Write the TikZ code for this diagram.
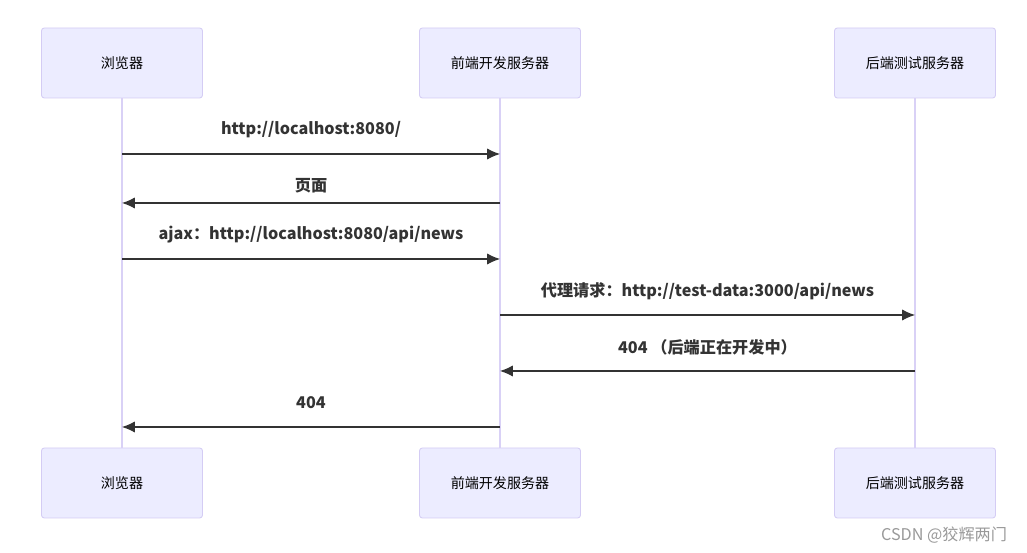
\documentclass[tikz,border=0pt]{standalone}
\usepackage{fontspec}
\setmainfont{Noto Sans CJK SC}
\usetikzlibrary{arrows.meta}

\definecolor{kastenrand}{HTML}{D4CCF4}
\definecolor{kastenfuell}{HTML}{ECECFF}
\definecolor{linienfarbe}{HTML}{D9D1F6}

\tikzset{
  teilnehmer/.style={draw=kastenrand, fill=kastenfuell, rounded corners=2pt, line width=0.6pt,
    minimum width=4.025cm, minimum height=1.75cm, font=\fontsize{10}{12}\selectfont},
  lebenslinie/.style={draw=linienfarbe, line width=1.1pt},
  nachricht/.style={draw=black!80, line width=0.8pt, -{Latex[length=3.2mm,width=2.8mm]}},
  beschriftung/.style={font=\bfseries\fontsize{11.5}{13}\selectfont, text=black!80}
}

\begin{document}
\begin{tikzpicture}
\useasboundingbox (0,0) rectangle (25.675,13.825);

%TEILNEHMER OBEN
\node [teilnehmer] (browserO) at (3.05,12.25) {浏览器};
\node [teilnehmer] (frontendO) at (12.5,12.25) {前端开发服务器};
\node [teilnehmer] (backendO) at (22.875,12.25) {后端测试服务器};

%TEILNEHMER UNTEN
\node [teilnehmer] (browserU) at (3.05,1.75) {浏览器};
\node [teilnehmer] (frontendU) at (12.5,1.75) {前端开发服务器};
\node [teilnehmer] (backendU) at (22.875,1.75) {后端测试服务器};

%LEBENSLINIEN
\draw [lebenslinie] (browserO) -- (browserU);
\draw [lebenslinie] (frontendO) -- (frontendU);
\draw [lebenslinie] (backendO) -- (backendU);

%PUNKTE AUF DEN LEBENSLINIEN
\coordinate (b1) at (3.05,9.975);
\coordinate (f1) at (12.5,9.975);
\coordinate (b2) at (3.05,8.75);
\coordinate (f2) at (12.5,8.75);
\coordinate (b3) at (3.05,7.35);
\coordinate (f3) at (12.5,7.35);
\coordinate (f4) at (12.5,5.95);
\coordinate (s4) at (22.875,5.95);
\coordinate (f5) at (12.5,4.55);
\coordinate (s5) at (22.875,4.55);
\coordinate (b6) at (3.05,3.15);
\coordinate (f6) at (12.5,3.15);

%NACHRICHT NR. 1
\draw [nachricht] (b1) -- (f1);
\node [beschriftung] (m1) at (7.775,10.575) {http://localhost:8080/};

%NACHRICHT NR. 2
\draw [nachricht] (f2) -- (b2);
\node [beschriftung] (m2) at (7.775,9.175) {页面};

%NACHRICHT NR. 3
\draw [nachricht] (b3) -- (f3);
\node [beschriftung] (m3) at (7.775,7.95) {ajax：http://localhost:8080/api/news};

%NACHRICHT NR. 4
\draw [nachricht] (f4) -- (s4);
\node [beschriftung] (m4) at (17.6875,6.55) {代理请求：http://test-data:3000/api/news};

%NACHRICHT NR. 5
\draw [nachricht] (s5) -- (f5);
\node [beschriftung] (m5) at (17.6875,5.15) {404 （后端正在开发中）};

%NACHRICHT NR. 6
\draw [nachricht] (f6) -- (b6);
\node [beschriftung] (m6) at (7.775,3.75) {404};

%WASSERZEICHEN
\node [anchor=east, text=black!40, font=\fontsize{11.5}{13}\selectfont] (wz) at (25.3,0.45) {CSDN @狡辉两门};

\end{tikzpicture}
\end{document}
